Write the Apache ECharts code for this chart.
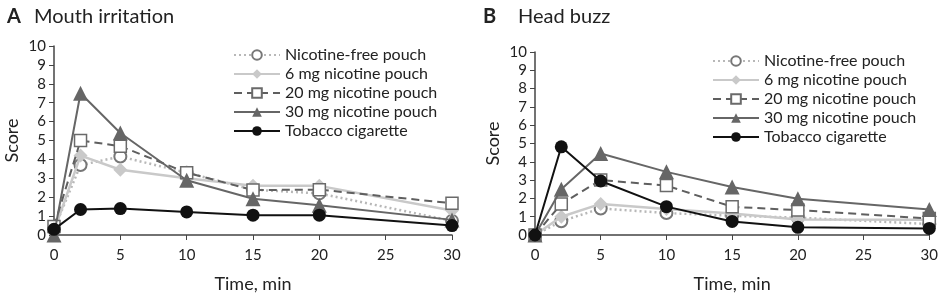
<!DOCTYPE html>
<html><head><meta charset="utf-8">
<script src="https://cdn.jsdelivr.net/npm/echarts@6/dist/echarts.min.js"></script>
<style>html,body{margin:0;padding:0;background:#fff}#c{width:941px;height:298px}</style>
</head><body><div id="c"></div>
<script>
const times = [0, 2, 5, 10, 15, 20, 30];
const seriesNames = ['Nicotine-free pouch', '6 mg nicotine pouch', '20 mg nicotine pouch', '30 mg nicotine pouch', 'Tobacco cigarette'];
const xTicks = [0, 5, 10, 15, 20, 25, 30];
const yTicks = [0, 1, 2, 3, 4, 5, 6, 7, 8, 9, 10];
// Panel A: Mouth irritation
const mouthFree = [0.3, 3.7, 4.15, 3.3, 2.4, 2.2, 0.75];
const mouth6 = [0.2, 4.2, 3.45, 3.0, 2.6, 2.6, 1.3];
const mouth20 = [0.45, 5.0, 4.7, 3.3, 2.38, 2.4, 1.68];
const mouth30 = [0.0, 7.5, 5.4, 2.9, 1.92, 1.58, 0.8];
const mouthCig = [0.3, 1.35, 1.4, 1.22, 1.05, 1.05, 0.5];
// Panel B: Head buzz
const buzzFree = [0.0, 0.75, 1.45, 1.2, 1.05, 0.95, 0.6];
const buzz6 = [0.0, 1.0, 1.7, 1.42, 1.18, 0.85, 0.83];
const buzz20 = [0.0, 1.7, 3.0, 2.7, 1.54, 1.36, 0.9];
const buzz30 = [0.0, 2.5, 4.45, 3.45, 2.62, 1.98, 1.4];
const buzzCig = [0.0, 4.82, 2.95, 1.55, 0.74, 0.42, 0.36];

const styles = [
  {symbol:'circle', symbolSize:12, line:{color:'#b8b8b8', width:2.5, type:[2,3]}, item:{color:'#fff', borderColor:'#777', borderWidth:2}},
  {symbol:'diamond', symbolSize:14, line:{color:'#c9c9c9', width:2.5, type:'solid'}, item:{color:'#c9c9c9', borderColor:'#c9c9c9', borderWidth:0}},
  {symbol:'rect', symbolSize:12, line:{color:'#5f5f5f', width:2, type:[8,5]}, item:{color:'#fff', borderColor:'#6a6a6a', borderWidth:1.5}},
  {symbol:'triangle', symbolSize:15, line:{color:'#666', width:2, type:'solid'}, item:{color:'#666', borderColor:'#666', borderWidth:0}},
  {symbol:'circle', symbolSize:13, line:{color:'#111', width:2, type:'solid'}, item:{color:'#111', borderColor:'#111', borderWidth:0}}
];
const panelA = [mouthFree, mouth6, mouth20, mouth30, mouthCig];
const panelB = [buzzFree, buzz6, buzz20, buzz30, buzzCig];

function mkSeries(vals, idx, gi) {
  const s = styles[idx];
  return {
    name: seriesNames[idx], type:'line', xAxisIndex:gi, yAxisIndex:gi,
    data: times.map((t,i)=>[t, vals[i]]),
    symbol:s.symbol, symbolSize:s.symbolSize, showAllSymbol:true,
    lineStyle:s.line, itemStyle:s.item, z: 10+idx, animation:false
  };
}
const series = [];
panelA.forEach((v,i)=>series.push(mkSeries(v,i,0)));
panelB.forEach((v,i)=>series.push(mkSeries(v,i,1)));

const font = 'Lato';
function xAxis(gi){return {type:'value', gridIndex:gi, min:0, max:30, interval:5,
  axisLine:{lineStyle:{color:'#444', width:1.5}}, axisTick:{show:true, length:5, lineStyle:{color:'#444'}},
  axisLabel:{color:'#222', fontSize:15, fontFamily:font, margin:13, formatter:v=>xTicks.includes(v)?String(v):''},
  splitLine:{show:false}, name:'Time, min', nameLocation:'middle', nameGap:40,
  nameTextStyle:{color:'#222', fontSize:18, fontFamily:font}};}
function yAxis(gi){return {type:'value', gridIndex:gi, min:0, max:10, interval:1,
  axisLine:{show:true, lineStyle:{color:'#444', width:1.5}}, axisTick:{show:true, length:5, lineStyle:{color:'#444'}},
  axisLabel:{color:'#222', fontSize:15, fontFamily:font, margin:8, formatter:v=>yTicks.includes(v)?String(v):''},
  splitLine:{show:false}, name:'Score', nameLocation:'middle', nameGap:33,
  nameTextStyle:{color:'#222', fontSize:18, fontFamily:font}};}

function legend(left, top){return {left:left, top:top, orient:'vertical', itemWidth:46, itemHeight:12, itemGap:3,
  textStyle:{color:'#222', fontSize:16, fontFamily:font}, data:seriesNames, selectedMode:false};}

const chart = echarts.init(document.getElementById('c'), null, {renderer:'canvas'});
chart.setOption({
  animation:false,
  title:[
    {text:'A', left:2, top:2, textStyle:{fontSize:20, fontWeight:'bold', color:'#222', fontFamily:font}},
    {text:'Mouth irritation', left:29, top:2, textStyle:{fontSize:20, fontWeight:'normal', color:'#222', fontFamily:font}},
    {text:'B', left:478, top:2, textStyle:{fontSize:20, fontWeight:'bold', color:'#222', fontFamily:font}},
    {text:'Head buzz', left:513, top:2, textStyle:{fontSize:20, fontWeight:'normal', color:'#222', fontFamily:font}}
  ],
  legend:[legend(228, 42), legend(707, 48)],
  grid:[
    {left:54, top:46, width:398, height:189, containLabel:false},
    {left:535, top:52, width:398, height:189, containLabel:false}
  ],
  xAxis:[xAxis(0), xAxis(1)],
  yAxis:[yAxis(0), yAxis(1)],
  series: series
});
</script></body></html>
